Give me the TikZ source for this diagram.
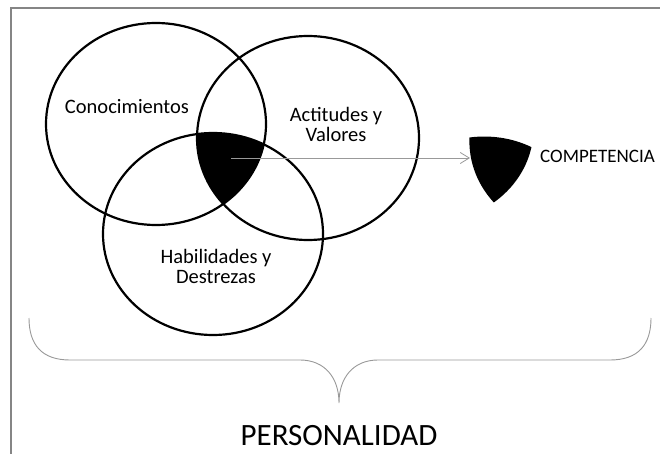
\documentclass[tikz,border=0pt]{standalone}
\usepackage{fontspec}
\setmainfont{Carlito}
\usepackage{tikz}
\usetikzlibrary{arrows.meta}

\definecolor{marco}{gray}{0.52}
\definecolor{llave}{gray}{0.6}

% zona comun de los tres circulos
\newcommand{\zonaComun}{%
  \begin{scope}
    \clip (156,124) ellipse [x radius=110, y radius=101];
    \clip (308,138) ellipse [x radius=111, y radius=102];
    \fill[black] (213,234) ellipse [x radius=110, y radius=101];
  \end{scope}}

\begin{document}
\begin{tikzpicture}[x=1pt,y=-1pt,
    circulo/.style={line width=2.2pt},
    etiqueta/.style={font=\fontsize{20.5}{20}\selectfont, align=center, inner sep=0pt},
    flecha/.style={draw=llave, line width=0.8pt, -{Straight Barb[length=9pt,width=11pt]}}]
	\useasboundingbox (0,0) rectangle (660,454);
	\draw[marco, line width=2pt] (11,454) -- (11,8) -- (660,8);

	\zonaComun
	\begin{scope}[shift={(501,170)}, scale=0.93, shift={(-231,-169)}]
		\zonaComun
	\end{scope}

	\draw[circulo] (156,124) ellipse [x radius=110, y radius=101];
	\draw[circulo] (308,138) ellipse [x radius=111, y radius=102];
	\draw[circulo] (213,234) ellipse [x radius=110, y radius=101];

	\node[etiqueta] (con) at (127,107) {Conocimientos};
	\node[etiqueta] (act) at (336,124) {Actitudes y\\Valores};
	\node[etiqueta] (hab) at (216,266) {Habilidades y\\Destrezas};
	\node[etiqueta, font=\fontsize{19}{20}\selectfont, anchor=west] (comp) at (540,156) {COMPETENCIA};

	\coordinate (centro) at (231,158);
	\coordinate (punta) at (470,158);
	\draw[flecha] (centro) -- (punta);

	\draw[llave, line width=0.9pt] (29,318) .. controls (29,345) and (42,360) .. (70,360)
		-- (300,360) .. controls (325,360) and (339,378) .. (339,403)
		.. controls (339,378) and (353,360) .. (378,360)
		-- (610,360) .. controls (638,360) and (651,345) .. (651,318);
	\node[etiqueta, font=\fontsize{31}{31}\selectfont] (per) at (339,436) {PERSONALIDAD};
\end{tikzpicture}
\end{document}
